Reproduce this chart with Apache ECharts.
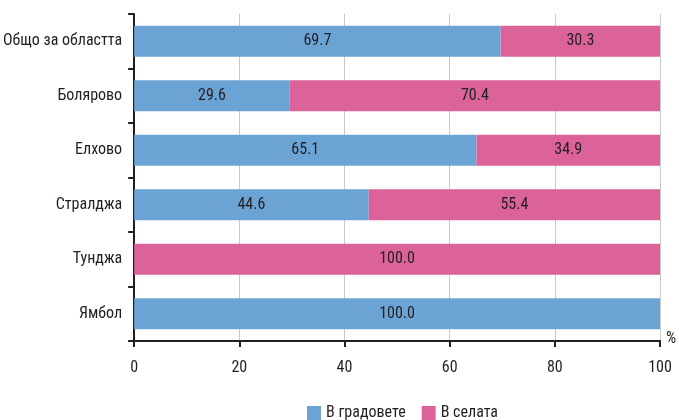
<!DOCTYPE html>
<html><head><meta charset="utf-8">
<script src="https://cdn.jsdelivr.net/npm/echarts@6/dist/echarts.min.js"></script>
<style>html,body{margin:0;padding:0;background:#fff}#c{width:679px;height:420px}</style>
</head><body><div id="c"></div>
<script>
const categories = ["Общо за областта","Болярово","Елхово","Стралджа","Тунджа","Ямбол"];
const cities = [69.7, 29.6, 65.1, 44.6, 0, 100.0];
const villages = [30.3, 70.4, 34.9, 55.4, 100.0, 0];
const xTicks = [0,20,40,60,80,100];
const FONT = '"Liberation Sans Narrow", "Roboto Condensed", "DejaVu Sans Condensed", sans-serif';
const chart = echarts.init(document.getElementById('c'));
const lbl = {show:true, position:'inside', color:'#231f20', fontSize:16, fontFamily:FONT,
  formatter: p => p.value > 0 ? p.value.toFixed(1) : ''};
chart.setOption({
  animation:false,
  textStyle:{fontFamily:FONT},
  grid:{left:134, right:19, top:14, bottom:79, containLabel:false},
  legend:{top:400, left:302, itemWidth:14, itemHeight:14, itemGap:16, icon:'rect',
    textStyle:{fontSize:16, color:'#231f20', fontFamily:FONT},
    data:['В градовете','В селата']},
  xAxis:{type:'value', min:0, max:100, interval:20,
    axisLine:{show:true, lineStyle:{color:'#231f20', width:2}},
    axisTick:{show:true, length:6, lineStyle:{color:'#231f20', width:2}},
    axisLabel:{fontSize:16, color:'#231f20', margin:19, fontFamily:FONT},
    splitLine:{show:true, lineStyle:{color:'#c8c8c8', width:1}}},
  yAxis:{type:'category', data:categories, inverse:true,
    axisLine:{show:true, lineStyle:{color:'#231f20', width:2}},
    axisTick:{show:true, length:6, lineStyle:{color:'#231f20', width:2}},
    axisLabel:{fontSize:16, color:'#231f20', margin:12, fontFamily:FONT}},
  graphic:[{type:'text', left:666, top:331, style:{text:'%', fontSize:16, fill:'#231f20', fontFamily:FONT}}],
  series:[
    {name:'В градовете', type:'bar', stack:'a', data:cities, barWidth:'57%',
     itemStyle:{color:'#6ca3d5'}, label:lbl},
    {name:'В селата', type:'bar', stack:'a', data:villages, barWidth:'57%',
     itemStyle:{color:'#db6399'}, label:lbl}
  ]
});
</script></body></html>
